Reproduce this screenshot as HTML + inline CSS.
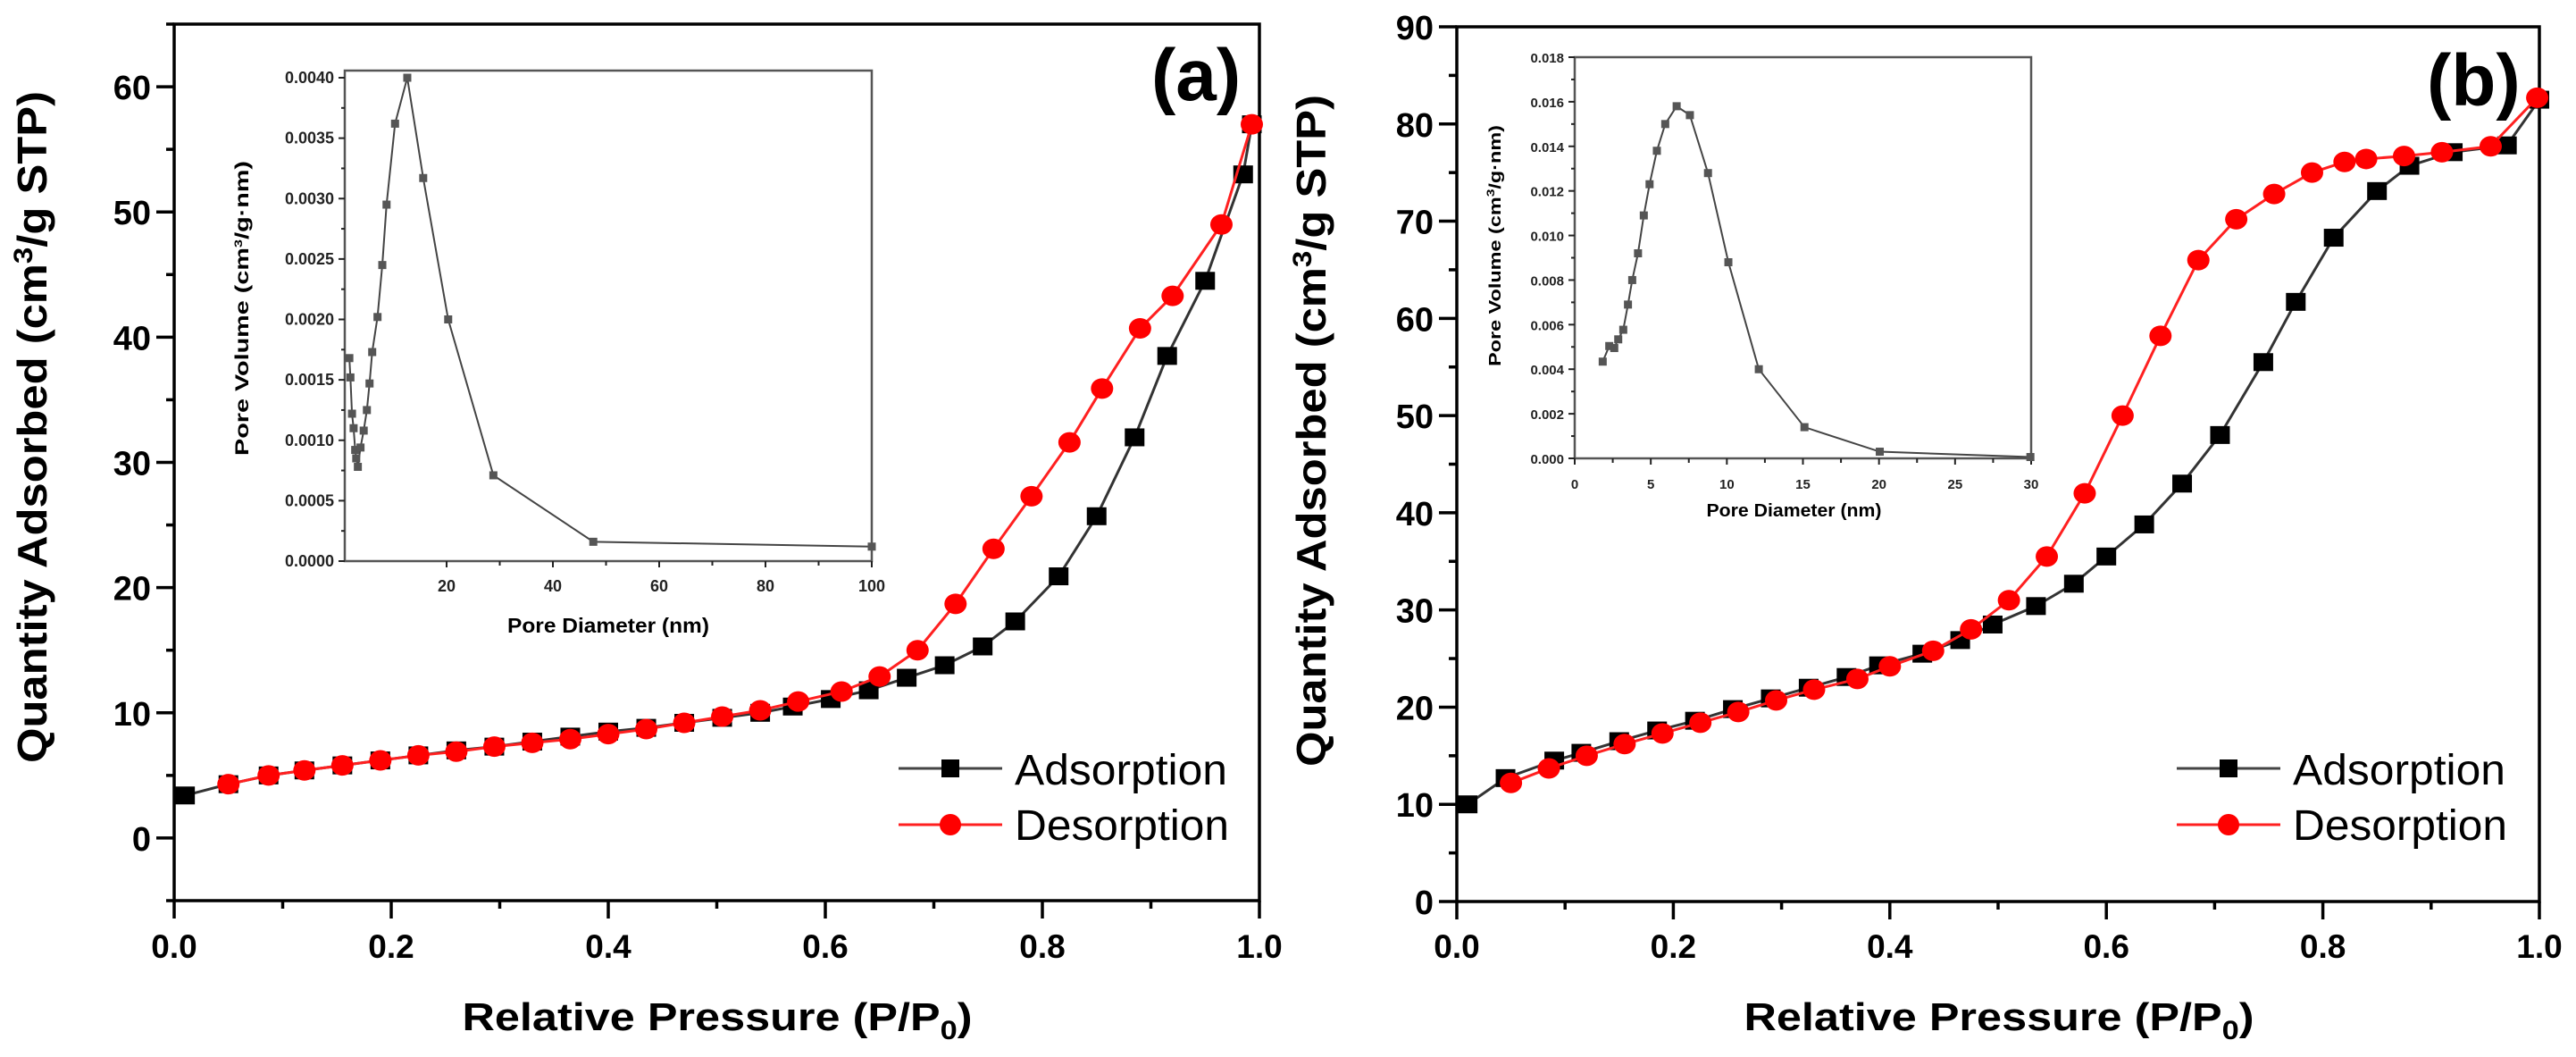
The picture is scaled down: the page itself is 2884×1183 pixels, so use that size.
<!DOCTYPE html>
<html><head><meta charset="utf-8"><style>
html,body{margin:0;padding:0;background:#fff}
svg{display:block;font-family:"Liberation Sans",Arial,sans-serif}
</style></head><body>
<svg id="fig" width="2884" height="1183" viewBox="0 0 2884 1183" xmlns="http://www.w3.org/2000/svg"></svg>
<script>
// ---- Panel (a) data ----
const aAdsX = [0.01,0.05,0.087,0.12,0.155,0.19,0.225,0.26,0.295,0.33,0.365,0.4,0.435,0.47,0.505,0.54,0.57,0.605,0.64,0.675,0.71,0.745,0.775,0.815,0.85,0.885,0.915,0.95,0.985,0.993];
const aAdsY = [3.4,4.3,5.0,5.4,5.8,6.2,6.6,7.0,7.3,7.7,8.1,8.5,8.8,9.2,9.6,10.0,10.5,11.1,11.8,12.8,13.8,15.3,17.3,20.9,25.7,32.0,38.5,44.5,53.0,57.0];
const aDesX = [0.05,0.087,0.12,0.155,0.19,0.225,0.26,0.295,0.33,0.365,0.4,0.435,0.47,0.505,0.54,0.575,0.615,0.65,0.685,0.72,0.755,0.79,0.825,0.855,0.89,0.92,0.965,0.993];
const aDesY = [4.3,5.0,5.4,5.8,6.2,6.6,6.9,7.3,7.6,7.9,8.3,8.7,9.2,9.7,10.2,10.9,11.7,12.9,15.0,18.7,23.1,27.3,31.6,35.9,40.7,43.3,49.0,57.0];
const aPoreX = [1.7,1.9,2.2,2.5,2.8,3.0,3.3,3.8,4.4,5.0,5.5,6.0,7.0,7.9,8.7,10.3,12.6,15.6,20.3,28.8,47.6,100];
const aPoreY = [0.00168,0.00152,0.00122,0.00110,0.00092,0.00085,0.00078,0.00094,0.00108,0.00125,0.00147,0.00173,0.00202,0.00245,0.00295,0.00362,0.0040,0.00317,0.00200,0.00071,0.00016,0.00012];
const aMainYTicks = [0,10,20,30,40,50,60];
const aInsetYTicks = ["0.0000","0.0005","0.0010","0.0015","0.0020","0.0025","0.0030","0.0035","0.0040"];
const aInsetXTicks = [20,40,60,80,100];
// ---- Panel (b) data ----
const bAdsX = [0.01,0.045,0.09,0.115,0.15,0.185,0.22,0.255,0.29,0.325,0.36,0.39,0.43,0.465,0.495,0.535,0.57,0.6,0.635,0.67,0.705,0.745,0.775,0.81,0.85,0.88,0.92,0.97,1.0];
const bAdsY = [10.0,12.7,14.5,15.3,16.5,17.6,18.6,19.8,20.9,22.0,23.1,24.3,25.5,26.9,28.5,30.4,32.7,35.5,38.8,43.0,48.0,55.5,61.7,68.3,73.1,75.7,77.1,77.8,82.5];
const bDesX = [0.05,0.085,0.12,0.155,0.19,0.225,0.26,0.295,0.33,0.37,0.4,0.44,0.475,0.51,0.545,0.58,0.615,0.65,0.685,0.72,0.755,0.79,0.82,0.84,0.875,0.91,0.955,0.998];
const bDesY = [12.2,13.7,15.0,16.2,17.3,18.4,19.5,20.7,21.8,22.9,24.2,25.8,28.0,31.0,35.5,42.0,50.0,58.2,66.0,70.2,72.8,75.0,76.1,76.4,76.7,77.1,77.7,82.7];
const bPoreX = [1.84,2.27,2.6,2.86,3.19,3.5,3.78,4.16,4.54,4.92,5.4,5.95,6.7,7.57,8.76,10.1,12.1,15.1,20.05,29.95];
const bPoreY = [0.00434,0.00504,0.00495,0.00534,0.00577,0.0069,0.0080,0.0092,0.0109,0.0123,0.0138,0.0150,0.0158,0.0154,0.0128,0.0088,0.0040,0.0014,0.0003,0.00006];
const bMainYTicks = [0,10,20,30,40,50,60,70,80,90];
const bInsetYTicks = ["0.000","0.002","0.004","0.006","0.008","0.010","0.012","0.014","0.016","0.018"];
const bInsetXTicks = [0,5,10,15,20,25,30];
const mainXTicks = ["0.0","0.2","0.4","0.6","0.8","1.0"];

const NS="http://www.w3.org/2000/svg";
const svg=document.getElementById('fig');
function mk(tag,attrs,parent,name,inter){
  const e=document.createElementNS(NS,tag);
  for(const k in attrs) e.setAttribute(k,attrs[k]);
  (parent||svg).appendChild(e);
  return e;
}
function lin(d0,d1,r0,r1){return v=>r0+(v-d0)/(d1-d0)*(r1-r0);}

function mainPanel(p){
  const g=mk('g',{});
  
  
  const sx=lin(0,1,p.x0,p.x1), sy=lin(p.ymin,p.ymax,p.yb,p.yt);
  // frame
  const fr=mk('rect',{x:p.x0,y:p.yt,width:p.x1-p.x0,height:p.yb-p.yt,fill:'none',stroke:'#000','stroke-width':3.5},g);
  
  
  // x ticks
  for(let i=0;i<=10;i++){
    const v=i/10, X=sx(v), major=i%2===0;
    const t=mk('line',{x1:X,x2:X,y1:p.yb,y2:p.yb+(major?20:9),stroke:'#000','stroke-width':3.5},g);
    
    
  }
  mainXTicks.forEach(s=>{
    const t=mk('text',{x:sx(parseFloat(s)),y:1072,'font-size':37,'font-weight':'bold','text-anchor':'middle'},g);
    t.textContent=s;
    
    
  });
  // y ticks
  const ts=p.yTicks;
  const step=ts[1]-ts[0];
  for(let v=p.ymin;v<=p.ymax+1e-9;v+=step/2){
    const major=Math.abs((v/step)-Math.round(v/step))<1e-6;
    const Y=sy(v);
    const t=mk('line',{x1:p.x0-(major?20:9),x2:p.x0,y1:Y,y2:Y,stroke:'#000','stroke-width':3.5},g);
    
    
  }
  ts.forEach(v=>{
    const t=mk('text',{x:p.x0-26,y:sy(v)+14,'font-size':38,'font-weight':'bold','text-anchor':'end'},g);
    t.textContent=v;
    
    
  });
  // titles
  const xt=mk('text',{x:p.xtx,y:1153,'font-size':44,'font-weight':'bold','text-anchor':'middle',textLength:571,lengthAdjust:'spacingAndGlyphs'},g);
  xt.innerHTML='Relative Pressure (P/P<tspan font-size="30" dy="10">0</tspan><tspan dy="-10">)</tspan>';
  
  
  const yt=mk('text',{x:0,y:0,'font-size':46,'font-weight':'bold','text-anchor':'middle',textLength:752,lengthAdjust:'spacingAndGlyphs',transform:`translate(${p.ytx},${p.yty}) rotate(-90)`},g);
  yt.innerHTML='Quantity Adsorbed (cm<tspan font-size="30" dy="-16">3</tspan><tspan dy="16">/g STP)</tspan>';
  
  
  const lab=mk('text',{x:p.labX,y:p.labY,'font-size':82,'font-weight':'bold'},g);
  lab.textContent=p.label;
  
  
  // series
  function series(xs,ys,color,lineColor,shape,nm){
    const pts=xs.map((x,i)=>sx(x)+','+sy(ys[i])).join(' ');
    const l=mk('polyline',{points:pts,fill:'none',stroke:lineColor,'stroke-width':3},g);
    
    
    xs.forEach((x,i)=>{
      let m;
      if(shape==='sq') m=mk('rect',{x:sx(x)-11,y:sy(ys[i])-10,width:22,height:20,fill:color},g);
      else m=mk('ellipse',{cx:sx(x),cy:sy(ys[i]),rx:12.5,ry:11.5,fill:color},g);
      
      
    });
  }
  series(p.adsX,p.adsY,'#000','#333','sq','adsorption');
  series(p.desX,p.desY,'#ff0000','#ff2020','ci','desorption');
  // legend
  const lg=mk('g',{},g);
  
  
  const e1=mk('line',{x1:p.lgX,x2:p.lgX+116,y1:860,y2:860,stroke:'#444','stroke-width':3},lg);
  
  
  const s1=mk('rect',{x:p.lgX+58-10,y:850,width:20,height:20,fill:'#000'},lg);
  
  
  const t1=mk('text',{x:p.lgX+130,y:878,'font-size':48,textLength:238,lengthAdjust:'spacingAndGlyphs'},lg);
  t1.textContent='Adsorption';
  
  
  const e2=mk('line',{x1:p.lgX,x2:p.lgX+116,y1:923,y2:923,stroke:'#ff2020','stroke-width':3},lg);
  
  
  const s2=mk('circle',{cx:p.lgX+58,cy:923,r:12,fill:'#ff0000'},lg);
  
  
  const t2=mk('text',{x:p.lgX+130,y:940,'font-size':48,textLength:240,lengthAdjust:'spacingAndGlyphs'},lg);
  t2.textContent='Desorption';
  
  
}

function inset(q){
  const g=mk('g',{});
  
  
  const sx=lin(q.xmin,q.xmax,q.x0,q.x1), sy=lin(0,q.ymax,q.yb,q.y0);
  const fr=mk('rect',{x:q.x0,y:q.yt,width:q.x1-q.x0,height:q.yb-q.yt,fill:'#fff',stroke:'#555','stroke-width':2.5},g);
  
  
  q.yTicks.forEach((s,i)=>{
    const v=parseFloat(s),Y=sy(v);
    const t=mk('line',{x1:q.x0-7,x2:q.x0,y1:Y,y2:Y,stroke:'#222','stroke-width':2},g);
    
    
    if(i<q.yTicks.length-1){
      const v2=(v+parseFloat(q.yTicks[i+1]))/2;
      const m=mk('line',{x1:q.x0-4,x2:q.x0,y1:sy(v2),y2:sy(v2),stroke:'#222','stroke-width':2},g);
      
      
    }
    const l=mk('text',{x:q.x0-12,y:Y+6,'font-size':q.fs,'font-weight':'bold','text-anchor':'end',fill:'#222'},g);
    l.textContent=s;
    
    
  });
  q.xTicks.forEach((v,i)=>{
    const X=sx(v);
    const t=mk('line',{x1:X,x2:X,y1:q.yb,y2:q.yb+7,stroke:'#222','stroke-width':2},g);
    
    
    if(i>0){
      const m=mk('line',{x1:sx((v+q.xTicks[i-1])/2),x2:sx((v+q.xTicks[i-1])/2),y1:q.yb,y2:q.yb+5,stroke:'#222','stroke-width':2},g);
      
      
    }
    const l=mk('text',{x:X,y:q.yb+34,'font-size':q.fs,'font-weight':'bold','text-anchor':'middle',fill:'#222'},g);
    l.textContent=v;
    
    
  });
  const xt=mk('text',{x:(q.x0+q.x1)/2+q.xtOff,y:q.xtY,'font-size':q.tfs,'font-weight':'bold','text-anchor':'middle',textLength:q.xtLen,lengthAdjust:'spacingAndGlyphs'},g);
  xt.textContent='Pore Diameter (nm)';
  
  
  const yt=mk('text',{x:0,y:0,'font-size':q.tfs-2,'font-weight':'bold','text-anchor':'middle',textLength:q.ytLen,lengthAdjust:'spacingAndGlyphs',transform:`translate(${q.ytx},${q.yty}) rotate(-90)`},g);
  yt.innerHTML='Pore Volume (cm<tspan font-size="12" dy="-7">3</tspan><tspan dy="7">/g·nm)</tspan>';
  
  
  const pts=q.px.map((x,i)=>sx(x)+','+sy(q.py[i])).join(' ');
  const l=mk('polyline',{points:pts,fill:'none',stroke:'#444','stroke-width':2},g);
  
  
  q.px.forEach((x,i)=>{
    const m=mk('rect',{x:sx(x)-4.5,y:sy(q.py[i])-4.5,width:9,height:9,fill:'#555'},g);
    
    
  });
}

mainPanel({id:'panel-a',x0:195,x1:1410,yb:1008,yt:27,ymin:-5,ymax:65,yTicks:aMainYTicks,
  adsX:aAdsX,adsY:aAdsY,desX:aDesX,desY:aDesY,xtx:803,ytx:52,yty:478,label:'(a)',labX:1289,labY:112,lgX:1006});
inset({id:'panel-a',x0:386,x1:976,yt:79,yb:628,y0:87,xmin:0.84,xmax:100,ymax:0.004,yTicks:aInsetYTicks,xTicks:aInsetXTicks,
  px:aPoreX,py:aPoreY,fs:18,tfs:23,xtY:708,xtOff:0,xtLen:226,ytx:278,yty:345,ytLen:330});
mainPanel({id:'panel-b',x0:1631,x1:2843,yb:1009,yt:30,ymin:0,ymax:90,yTicks:bMainYTicks,
  adsX:bAdsX,adsY:bAdsY,desX:bDesX,desY:bDesY,xtx:2238,ytx:1484,yty:482,label:'(b)',labX:2717,labY:118,lgX:2437});
inset({id:'panel-b',x0:1763,x1:2274,yt:64,yb:513,y0:64,xmin:0,xmax:30,ymax:0.018,yTicks:bInsetYTicks,xTicks:bInsetXTicks,
  px:bPoreX,py:bPoreY,fs:15,tfs:20,xtY:578,xtOff:-10,xtLen:196,ytx:1680,yty:275,ytLen:270});
</script>
</body></html>
